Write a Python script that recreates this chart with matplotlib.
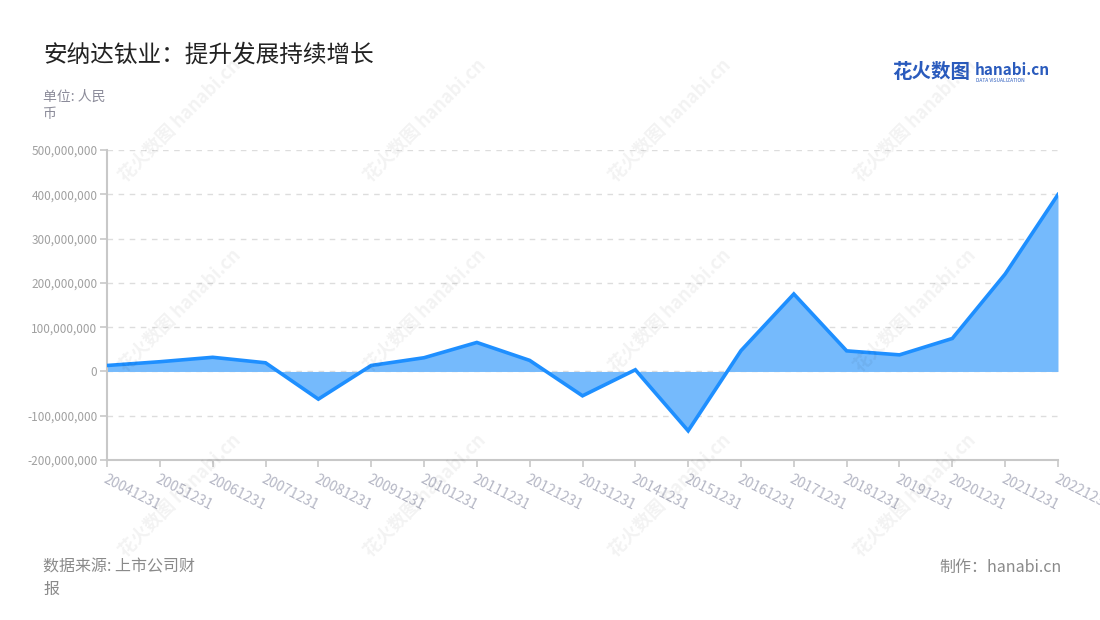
import matplotlib
matplotlib.use('Agg')
import matplotlib.pyplot as plt
from matplotlib.ticker import FuncFormatter, MultipleLocator

plt.rcParams['font.family'] = ['Noto Sans CJK SC', 'DejaVu Sans']

# 数据
dates = ['20041231', '20051231', '20061231', '20071231', '20081231', '20091231',
         '20101231', '20111231', '20121231', '20131231', '20141231', '20151231',
         '20161231', '20171231', '20181231', '20191231', '20201231', '20211231',
         '20221231']
profit = [13.5e6, 22e6, 32e6, 19.6e6, -62.5e6, 13.5e6,
          31e6, 65.5e6, 25e6, -55e6, 3.8e6, -134e6,
          47e6, 175e6, 46.5e6, 37.5e6, 74.5e6, 220e6,
          399.5e6]

title = '安纳达钛业：提升发展持续增长'
unit_text = '单位: 人民\n币'
source_text = '数据来源: 上市公司财\n报'
maker_text = '制作：hanabi.cn'

fig = plt.figure(figsize=(11, 6.2), dpi=100)
ax = fig.add_axes([0.0973, 0.258, 0.8645, 0.5])

x = list(range(len(dates)))
ax.fill_between(x, profit, 0, color='#75BAFC', linewidth=0, zorder=2)
ax.plot(x, profit, color='#1E8FFF', linewidth=2.6, zorder=3, solid_joinstyle='miter')

ax.set_xlim(0, len(dates) - 1)
ax.set_ylim(-200e6, 500e6)
ax.yaxis.set_major_locator(MultipleLocator(100e6))
ax.yaxis.set_major_formatter(FuncFormatter(lambda v, p: f'{int(round(v)):,}'))

ax.grid(axis='y', color='#dddddd', linestyle=(0, (4, 4)), linewidth=1, zorder=1)
ax.set_axisbelow(True)

for s in ['top', 'right']:
    ax.spines[s].set_visible(False)
for s in ['left', 'bottom']:
    ax.spines[s].set_color('#c8c8c8')
    ax.spines[s].set_linewidth(1.5)

ax.tick_params(axis='y', colors='#c8c8c8', labelcolor='#a0a0a0', labelsize=8.5,
               length=5, width=1.2, pad=2)
ax.tick_params(axis='x', colors='#c8c8c8', labelcolor='#b4b6c4', labelsize=10,
               length=5, width=1.2, pad=4)

ax.set_xticks(x)
ax.set_xticklabels(dates, rotation=-27, ha='left', va='top', rotation_mode='anchor')

# 标题和注释
fig.text(43 / 1100, 1 - 55 / 620, title, fontsize=17, color='#222222', va='center')
fig.text(43 / 1100, 1 - 105 / 620, unit_text, fontsize=10, color='#8c8c9a',
         va='center', linespacing=1.3)
fig.text(43 / 1100, 1 - 578 / 620, source_text, fontsize=11.5, color='#8a8a8a',
         va='center', linespacing=1.4)
fig.text(1062 / 1100, 1 - 567 / 620, maker_text, fontsize=11.5, color='#8a8a8a',
         va='center', ha='right')

# logo
fig.text(892 / 1100, 1 - 73 / 620, '花火数图', fontsize=14, color='#2a5bbd',
         va='center', fontweight='bold')
fig.text(975 / 1100, 1 - 70 / 620, 'hanabi.cn', fontsize=11, color='#2a5bbd',
         va='center', fontweight='bold')
fig.text(976 / 1100, 1 - 80 / 620, 'DATA VISUALIZATION', fontsize=3.5,
         color='#2a5bbd', va='center')

# 水印
for wx in [180, 425, 670, 915]:
    for wy in [120, 310, 495]:
        fig.text(wx / 1100, 1 - wy / 620, '花火数图 hanabi.cn', fontsize=13,
                 color='#000000', alpha=0.05, rotation=45, ha='center',
                 va='center', fontweight='bold')

fig.savefig('out.png', dpi=100)
